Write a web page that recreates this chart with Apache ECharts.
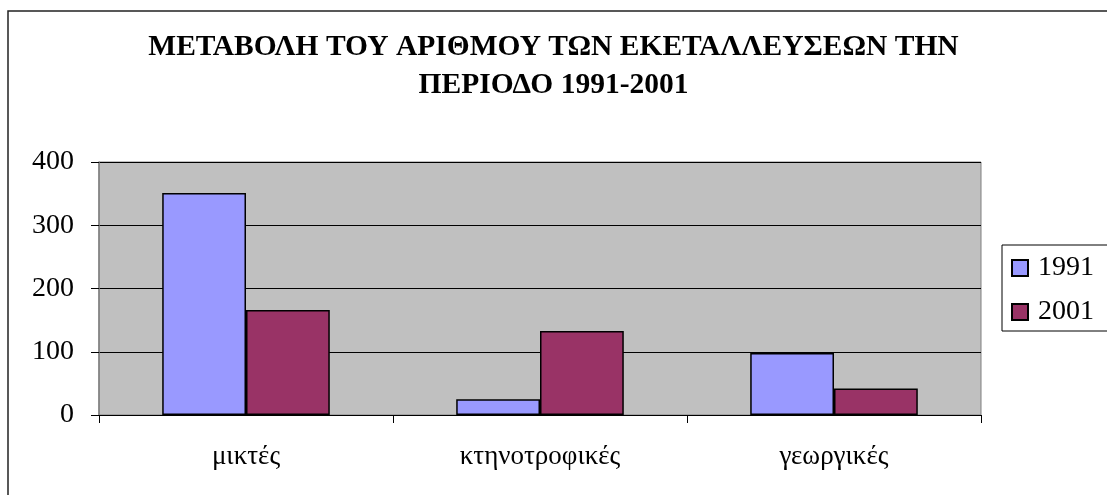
<!DOCTYPE html>
<html>
<head>
<meta charset="utf-8">
<script src="https://cdn.jsdelivr.net/npm/echarts@6/dist/echarts.min.js"></script>
<style>
  html, body { margin: 0; padding: 0; background: #fff; }
  #chart { width: 1107px; height: 495px; }
</style>
</head>
<body>
<div id="chart"></div>
<script>
// Farm counts by holding type, 1991 vs 2001
const categories = ['μικτές', 'κτηνοτροφικές', 'γεωργικές'];
const seriesNames = ['1991', '2001'];
const values1991 = [351, 25, 98];
const values2001 = [166, 133, 42];
const yTicks = [0, 100, 200, 300, 400];

const titleText = 'ΜΕΤΑΒΟΛΗ ΤΟΥ ΑΡΙΘΜΟΥ ΤΩΝ ΕΚΕΤΑΛΛΕΥΣΕΩΝ ΤΗΝ\nΠΕΡΙΟΔΟ 1991-2001';
const serif = '"Liberation Serif", "DejaVu Serif", serif';

const chart = echarts.init(document.getElementById('chart'), null, { renderer: 'canvas' });

chart.setOption({
  animation: false,
  backgroundColor: '#ffffff',
  title: {
    text: titleText,
    left: 'center',
    top: 23,
    textStyle: {
      fontFamily: serif,
      fontWeight: 'bold',
      fontSize: 29.5,
      lineHeight: 38,
      color: '#000'
    }
  },
  graphic: [
    {
      type: 'rect',
      shape: { x: 8, y: 11, width: 1200, height: 600 },
      style: { fill: 'none', stroke: '#222', lineWidth: 1.5 },
      silent: true
    },
    {
      type: 'rect',
      shape: { x: 1002, y: 245, width: 200, height: 86 },
      style: { fill: '#fff', stroke: '#000', lineWidth: 1 },
      silent: true,
      z: 0
    }
  ],
  legend: {
    data: seriesNames,
    orient: 'vertical',
    left: 1006,
    top: 249,
    itemWidth: 16,
    itemHeight: 16,
    itemGap: 16,
    icon: 'rect',
    textStyle: { fontFamily: serif, fontSize: 28, color: '#000', padding: [0, 0, 0, 5] },
    z: 5
  },
  grid: {
    left: 99,
    right: 126,
    top: 162,
    bottom: 80,
    show: true,
    backgroundColor: '#c0c0c0',
    borderColor: '#808080',
    borderWidth: 1
  },
  xAxis: {
    type: 'category',
    data: categories,
    axisLine: { show: true, lineStyle: { color: '#000', width: 1 } },
    axisTick: { show: true, length: 8, alignWithLabel: false, lineStyle: { color: '#000' } },
    axisLabel: { fontFamily: serif, fontSize: 27, color: '#000', margin: 28 },
    splitLine: { show: false }
  },
  yAxis: {
    type: 'value',
    min: yTicks[0],
    max: yTicks[yTicks.length - 1],
    interval: 100,
    axisLine: { show: true, lineStyle: { color: '#808080', width: 1.5 } },
    axisTick: { show: true, length: 8, lineStyle: { color: '#000' } },
    axisLabel: { fontFamily: serif, fontSize: 28, color: '#000', margin: 25 },
    splitLine: { show: true, lineStyle: { color: '#000', width: 1 } }
  },
  series: [
    {
      name: seriesNames[0],
      type: 'bar',
      data: values1991,
      barGap: '0%',
      barCategoryGap: '43%',
      itemStyle: { color: '#9999ff', borderColor: '#000', borderWidth: 1.5 }
    },
    {
      name: seriesNames[1],
      type: 'bar',
      data: values2001,
      barGap: '0%',
      barCategoryGap: '43%',
      itemStyle: { color: '#993366', borderColor: '#000', borderWidth: 1.5 }
    }
  ]
});
</script>
</body>
</html>
